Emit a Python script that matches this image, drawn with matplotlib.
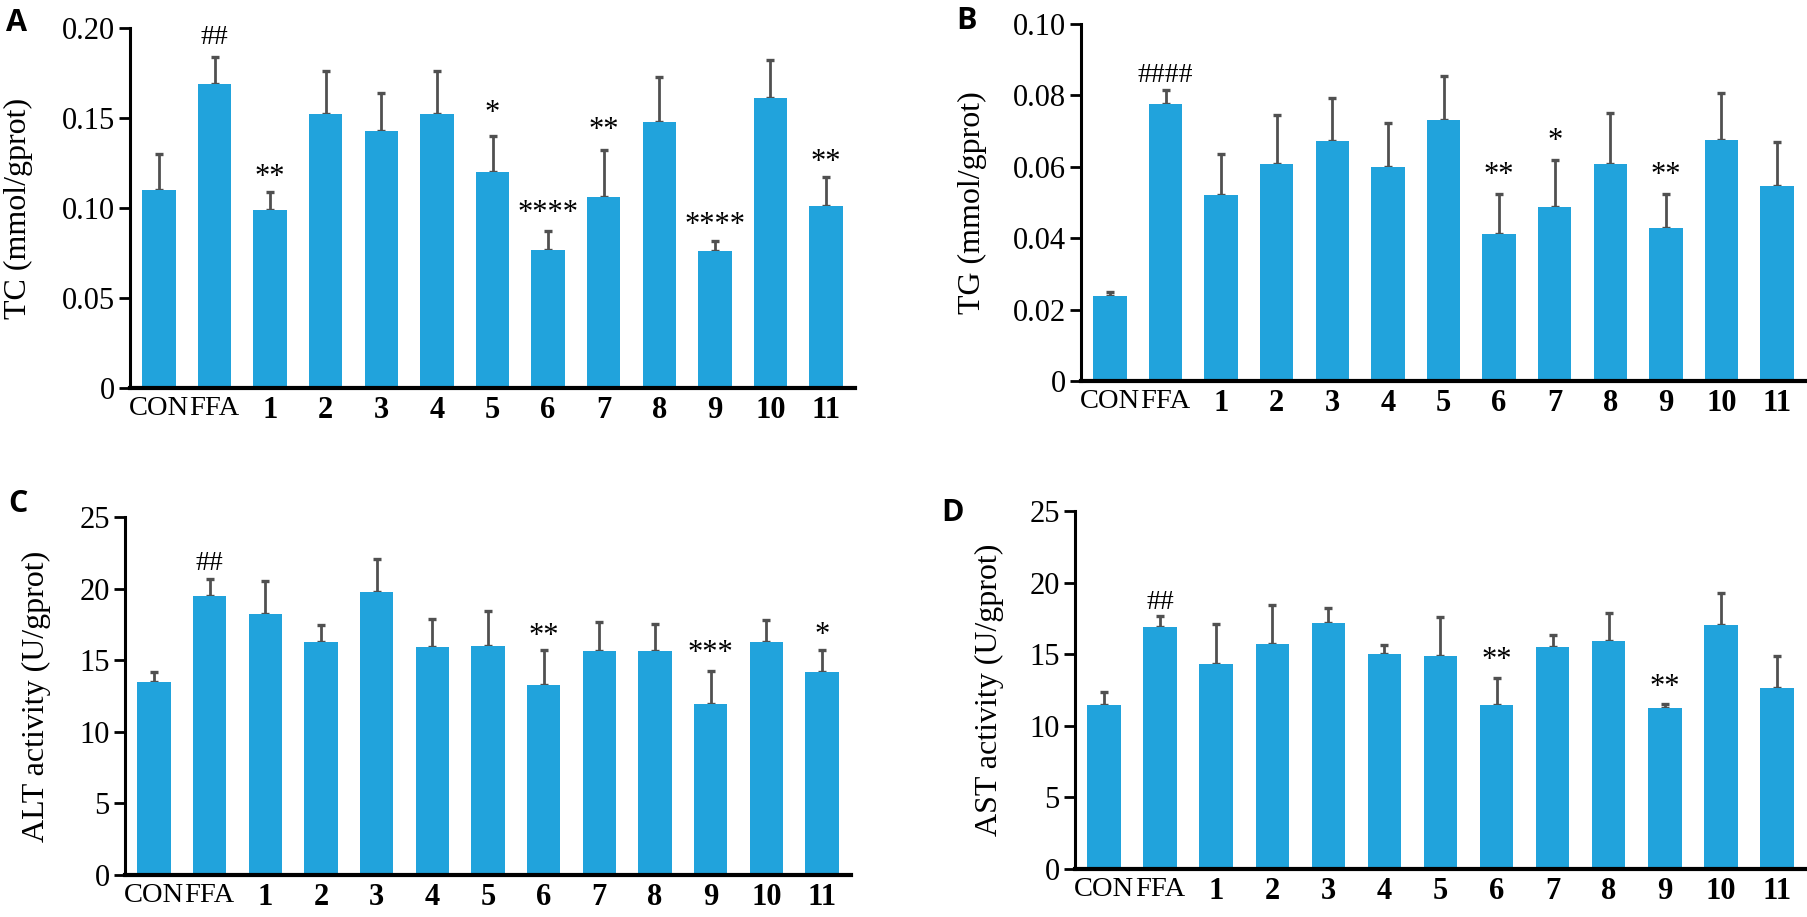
import matplotlib
matplotlib.use("Agg")
import matplotlib.pyplot as plt

groups = ['CON', 'FFA', '1', '2', '3', '4', '5', '6', '7', '8', '9', '10', '11']

tc_mean = [0.110, 0.169, 0.099, 0.152, 0.143, 0.152, 0.120, 0.0765, 0.106, 0.148, 0.076, 0.161, 0.101]
tc_err = [0.020, 0.015, 0.010, 0.024, 0.021, 0.024, 0.020, 0.011, 0.026, 0.025, 0.0057, 0.021, 0.016]
tc_marks = {'FFA': ('##', 0.196), '1': ('**', 0.1216), '5': ('*', 0.157), '6': ('****', 0.1016),
            '7': ('**', 0.1476), '9': ('****', 0.095), '11': ('**', 0.130)}

tg_mean = [0.0239, 0.0775, 0.052, 0.0607, 0.0673, 0.0599, 0.0731, 0.0413, 0.0487, 0.0607, 0.0428, 0.0676, 0.0547]
tg_err = [0.001, 0.004, 0.0117, 0.0138, 0.012, 0.0125, 0.0123, 0.011, 0.0133, 0.0144, 0.0096, 0.0132, 0.0123]
tg_marks = {'FFA': ('####', 0.0862), '6': ('**', 0.0599), '7': ('*', 0.0694), '9': ('**', 0.0599)}

alt_mean = [13.47, 19.45, 18.22, 16.24, 19.73, 15.91, 15.96, 13.28, 15.61, 15.61, 11.95, 16.24, 14.2]
alt_err = [0.74, 1.22, 2.33, 1.19, 2.36, 1.98, 2.49, 2.40, 2.03, 1.91, 2.31, 1.58, 1.5]
alt_marks = {'FFA': ('##', 21.97), '6': ('**', 17.26), '9': ('***', 16.03), '11': ('*', 17.3)}

ast_mean = [11.47, 16.93, 14.35, 15.72, 17.19, 15.0, 14.86, 11.44, 15.49, 15.93, 11.23, 17.02, 12.63]
ast_err = [0.86, 0.74, 2.77, 2.75, 1.04, 0.67, 2.74, 1.93, 0.84, 1.95, 0.3, 2.28, 2.25]
ast_marks = {'FFA': ('##', 18.79), '6': ('**', 15.14), '9': ('**', 13.28)}

BLUE = '#21a3dc'
GREY = '#505050'
SERIF = 'Liberation Serif'

fig = plt.figure(figsize=(18.08, 9.17), dpi=100)


def panel(rect, means, errs, marks, ylim, yticks, yticklabels, ylabel, letter, letter_xy, label_x):
    ax = fig.add_axes(rect)
    x = list(range(len(groups)))
    ax.bar(x, means, width=0.6, color=BLUE, zorder=2)
    # only the upper half of the error bar is drawn
    ax.errorbar(x, means, yerr=[[0] * len(errs), errs], fmt='none', ecolor=GREY,
                elinewidth=2.0, capsize=3, capthick=2.4, zorder=1)
    ax.set_xlim(-0.52, 12.52)
    ax.set_ylim(*ylim)
    ax.set_yticks(yticks)
    ax.set_yticklabels(yticklabels, fontfamily=SERIF, fontsize=22)
    ax.set_xticks(x)
    ax.set_xticklabels(groups, fontfamily=SERIF, fontsize=22)
    for lab in ax.get_xticklabels()[:2]:
        lab.set_fontsize(20.5)
    for lab in ax.get_xticklabels()[2:]:
        lab.set_fontweight('bold')
    ax.tick_params(axis='x', length=0, pad=6)
    ax.tick_params(axis='y', length=8, width=2, pad=3, direction='out')
    for s in ['top', 'right']:
        ax.spines[s].set_visible(False)
    ax.spines['left'].set_linewidth(2.2)
    ax.spines['bottom'].set_linewidth(3)
    ax.set_ylabel(ylabel, fontfamily=SERIF, fontsize=23)
    ax.yaxis.set_label_coords(label_x, 0.5)
    for g, (txt, yv) in marks.items():
        i = groups.index(g)
        fs = 20 if '#' in txt else 22
        off = 0.33 * fs if '#' in txt else 0.52 * fs
        ax.annotate(txt, (i, yv), xytext=(0, -off), textcoords='offset points',
                    ha='center', va='baseline', fontsize=fs, fontfamily=SERIF)
    fig.text(letter_xy[0], letter_xy[1], letter, fontsize=22, fontweight='bold',
             fontfamily='Open Sans', ha='left', va='top')
    return ax


W, H = 1808.0, 917.0

panel([130 / W, 1 - 388 / H, 725 / W, 360 / H], tc_mean, tc_err, tc_marks,
      (0, 0.20), [0, 0.05, 0.10, 0.15, 0.20], ['0', '0.05', '0.10', '0.15', '0.20'],
      'TC (mmol/gprot)', 'A', (6 / W, 1 - 8 / H), -0.134)

panel([1081 / W, 1 - 381 / H, 725 / W, 357 / H], tg_mean, tg_err, tg_marks,
      (0, 0.10), [0, 0.02, 0.04, 0.06, 0.08, 0.10], ['0', '0.02', '0.04', '0.06', '0.08', '0.10'],
      'TG (mmol/gprot)', 'B', (956 / W, 1 - 6 / H), -0.130)

panel([125 / W, 1 - 875 / H, 726 / W, 358 / H], alt_mean, alt_err, alt_marks,
      (0, 25), [0, 5, 10, 15, 20, 25], ['0', '5', '10', '15', '20', '25'],
      'ALT activity (U/gprot)', 'C', (8 / W, 1 - 489 / H), -0.102)

panel([1075 / W, 1 - 869 / H, 731 / W, 358 / H], ast_mean, ast_err, ast_marks,
      (0, 25), [0, 5, 10, 15, 20, 25], ['0', '5', '10', '15', '20', '25'],
      'AST activity (U/gprot)', 'D', (941 / W, 1 - 498 / H), -0.097)

fig.savefig('out.png', dpi=100)
